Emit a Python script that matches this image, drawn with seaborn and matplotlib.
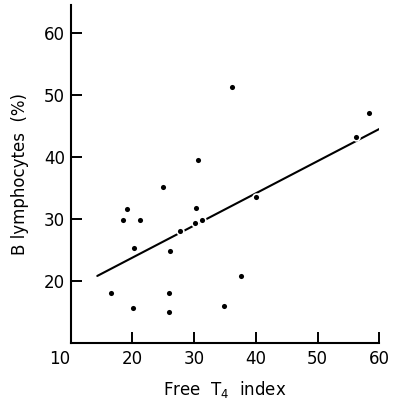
#!/usr/bin/env python3

import numpy as np
import pandas as pd
import seaborn as sns
import matplotlib.pyplot as plt

# values
free_t4 = [24.9, 19.1, 18.5, 21.3, 30.3, 30.1, 31.2, 27.7, 20.2, 26.1, 16.5,
           20.1, 25.9, 26.0, 36.1, 30.7, 40.1, 37.6, 34.8, 58.3, 56.3]
b_lymph = [35.2, 31.6, 29.8, 29.8, 31.7, 29.4, 29.8, 28.0, 25.3, 24.8, 18.1,
           15.6, 18.1, 15.0, 51.3, 39.5, 33.5, 20.8, 16.0, 47.1, 43.2]

# regression line as drawn (end points)
fit_x = [14.3, 60.7]
fit_y = [20.8, 44.9]

x_ticks = [10, 20, 30, 40, 50, 60]
y_ticks = [20, 30, 40, 50, 60]

df = pd.DataFrame({"t4": free_t4, "b": b_lymph})
fit = pd.DataFrame({"t4": fit_x, "b": fit_y})

sns.set_style("ticks")
plt.rcParams['font.family'] = ['DejaVu Sans']
plt.rcParams['text.color'] = 'black'
plt.rcParams['axes.labelcolor'] = 'black'

fig = plt.figure(figsize=(3.93, 4.0), dpi=100)
ax = fig.add_axes([0.18, 0.143, 0.785, 0.845])

sns.lineplot(data=fit, x="t4", y="b", ax=ax, color="black", linewidth=1.5, zorder=2)
sns.scatterplot(data=df, x="t4", y="b", ax=ax, color="black", s=24,
                edgecolor="white", linewidth=1.2, zorder=3, clip_on=False)

ax.set_xlim(10, 60)
ax.set_ylim(10, 64.6)
ax.set_xticks(x_ticks)
ax.set_yticks(y_ticks)
ax.tick_params(direction="in", length=8, width=1.4, labelsize=12, colors="black")
ax.tick_params(axis="y", pad=4)
ax.tick_params(axis="x", pad=5)
ax.get_xticklabels()[0].set_ha("right")

for side in ["top", "right"]:
    ax.spines[side].set_visible(False)
for side in ["left", "bottom"]:
    ax.spines[side].set_linewidth(1.5)
    ax.spines[side].set_color("black")

ax.set_xlabel("Free  T$_4$  index", fontsize=12, labelpad=8)
ax.set_ylabel("B lymphocytes  (%)", fontsize=12, labelpad=11)

fig.savefig("out.png", dpi=100, facecolor="white")
